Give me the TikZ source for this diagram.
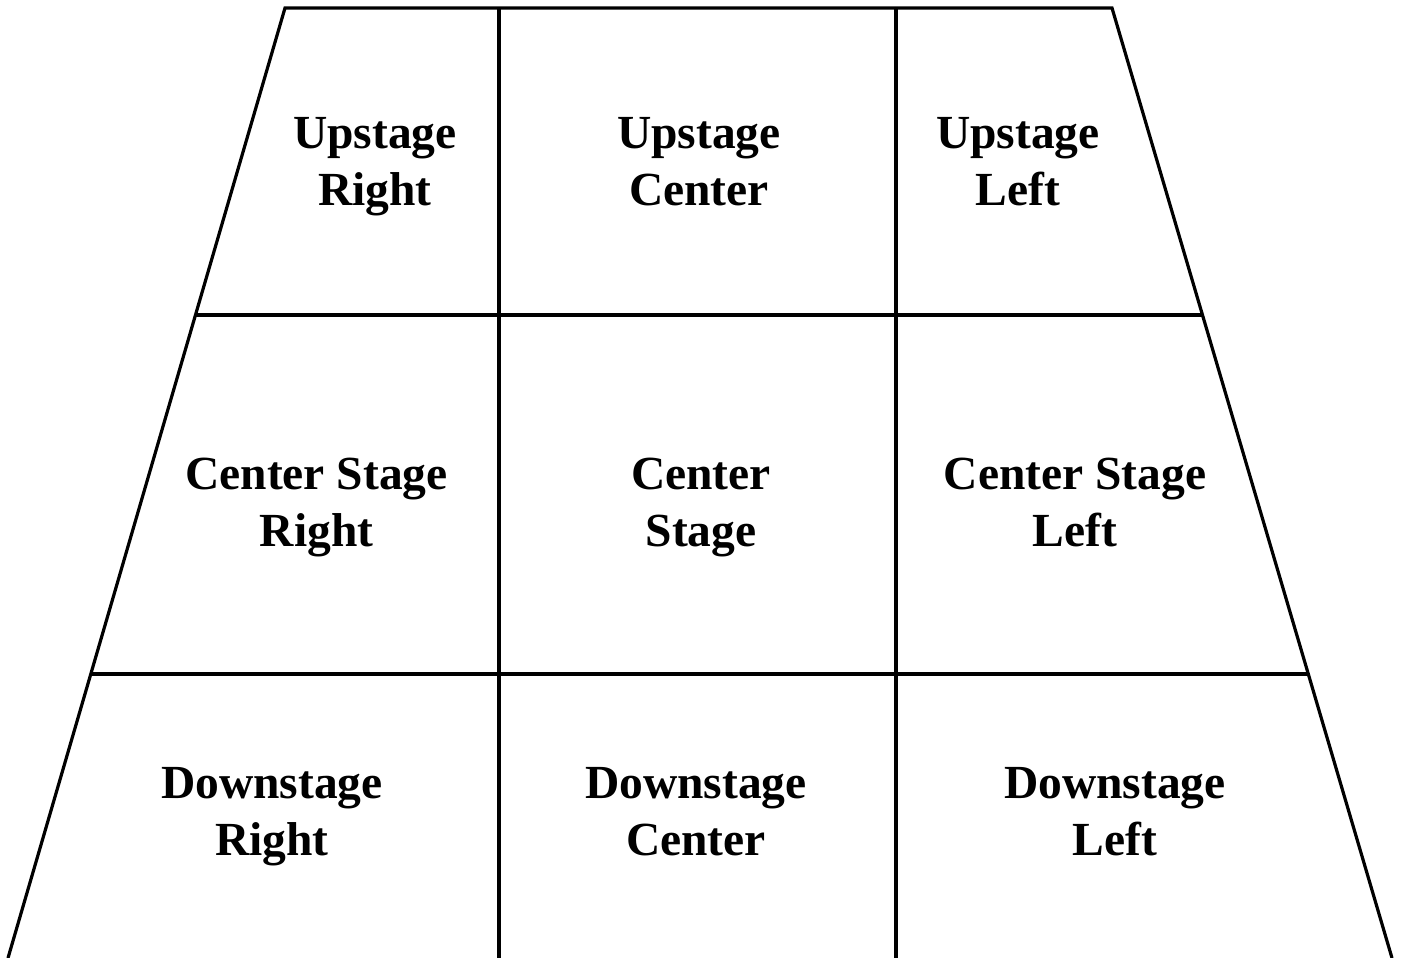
\documentclass[tikz,border=0pt]{standalone}
\usepackage{fontspec}
\setmainfont{Liberation Serif}
\usetikzlibrary{calc}
\tikzset{
  stageline/.style={line width=3.2pt, line join=miter, black},
  zone/.style={anchor=base, inner sep=0pt, font=\fontsize{47.5}{57.5}\selectfont\bfseries}
}
\newcommand{\twolines}[2]{\begin{tabular}[t]{@{}c@{}}#1\\#2\end{tabular}}
\begin{document}
\begin{tikzpicture}[x=1pt,y=-1pt]
\useasboundingbox (0,0) rectangle (1403,958);
% corners of the stage
\coordinate (TL) at (285,8);
\coordinate (TR) at (1112,8);
\coordinate (BL) at (8,958);
\coordinate (BR) at (1392,958);
% division points
\coordinate (V1t) at (499,8);
\coordinate (V1b) at (499,958);
\coordinate (V2t) at (896,8);
\coordinate (V2b) at (896,958);
\coordinate (H1l) at ($(TL)!{(315-8)/950}!(BL)$);
\coordinate (H1r) at ($(TR)!{(315-8)/950}!(BR)$);
\coordinate (H2l) at ($(TL)!{(674-8)/950}!(BL)$);
\coordinate (H2r) at ($(TR)!{(674-8)/950}!(BR)$);
% outline
\draw[stageline] (BL) -- (TL) -- (TR) -- (BR);
\draw[stageline] (V1t) -- (V1b);
\draw[stageline] (V2t) -- (V2b);
\draw[stageline] (H1l) -- (H1r);
\draw[stageline] (H2l) -- (H2r);
% labels
\node[zone] (usr) at (375,148) {\twolines{Upstage}{Right}};
\node[zone] (usc) at (699,148) {\twolines{Upstage}{Center}};
\node[zone] (usl) at (1018,148) {\twolines{Upstage}{Left}};
\node[zone] (csr) at (316.5,489) {\twolines{Center Stage}{Right}};
\node[zone] (cs)  at (701,489) {\twolines{Center}{Stage}};
\node[zone] (csl) at (1075,489) {\twolines{Center Stage}{Left}};
\node[zone] (dsr) at (272,798) {\twolines{Downstage}{Right}};
\node[zone] (dsc) at (696,798) {\twolines{Downstage}{Center}};
\node[zone] (dsl) at (1115,798) {\twolines{Downstage}{Left}};
\end{tikzpicture}
\end{document}
